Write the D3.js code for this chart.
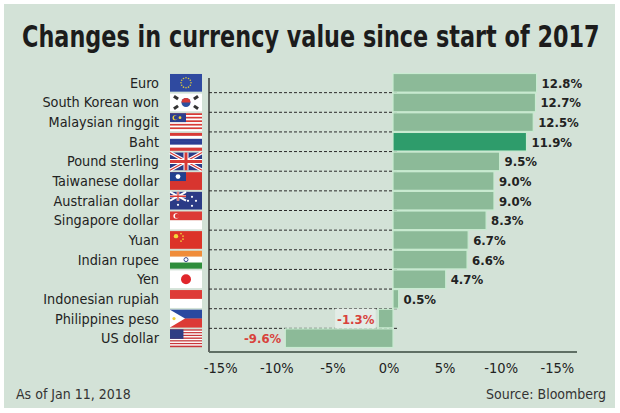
<!DOCTYPE html>
<html>
<head>
<meta charset="utf-8">
<script src="https://cdn.jsdelivr.net/npm/d3@7"></script>
<style>
  body { margin: 0; background: #fff; }
  svg { display: block; }
  .cond { font-family: 'DejaVu Sans Condensed', 'Liberation Sans Narrow', sans-serif; }
</style>
</head>
<body>
<div id="chart"></div>
<script>
// data
const currencies = ['Euro', 'South Korean won', 'Malaysian ringgit', 'Baht', 'Pound sterling',
  'Taiwanese dollar', 'Australian dollar', 'Singapore dollar', 'Yuan', 'Indian rupee', 'Yen',
  'Indonesian rupiah', 'Philippines peso', 'US dollar'];
const changes = [12.8, 12.7, 12.5, 11.9, 9.5, 9.0, 9.0, 8.3, 6.7, 6.6, 4.7, 0.5, -1.3, -9.6];
const flagCodes = ['eu', 'kr', 'my', 'th', 'gb', 'tw', 'au', 'sg', 'cn', 'in', 'jp', 'id', 'ph', 'us'];
const highlighted = 'Baht';
const tickValues = [-15, -10, -5, 0, 5, 10, 15];
const tickLabels = ['-15%', '-10%', '-5%', '0%', '5%', '-10%', '-15%']; // as printed in the original

(function() {
  const W = 620, H = 413;
  const bg = '#d3e2d7';

  const svg = d3.select('#chart').append('svg')
    .attr('width', W)
    .attr('height', H);

  // panel
  svg.append('rect')
    .attr('x', 4).attr('y', 4)
    .attr('width', 611).attr('height', 404)
    .attr('fill', bg);

  // title, squeezed horizontally to the width of the original
  const titleG = svg.append('g');
  const title = titleG.append('text')
    .attr('x', 0).attr('y', 0)
    .style('font-family', "'DejaVu Sans Condensed', sans-serif")
    .style('font-weight', 'bold')
    .style('font-size', '31px')
    .attr('fill', '#1c1c1c')
    .text('Changes in currency value since start of 2017');
  const tw = title.node().getComputedTextLength();
  titleG.attr('transform', `translate(22,47) scale(${578 / tw},1)`);

  const x = d3.scaleLinear().domain([-16.4, 16.4]).range([209, 577]);
  const y = d3.scaleBand().domain(currencies).range([73, 348]).paddingInner(0.1).paddingOuter(0.05);
  const bw = y.bandwidth();
  const gap = y.step() - bw;

  // dashed row separators
  svg.append('g').selectAll('line')
    .data(currencies.slice(0, -1))
    .join('line')
    .attr('x1', x.range()[0]).attr('x2', x(0) + 5)
    .attr('y1', d => y(d) + bw + gap / 2)
    .attr('y2', d => y(d) + bw + gap / 2)
    .attr('stroke', '#2a2a2a')
    .attr('stroke-width', 1)
    .attr('stroke-dasharray', '3,2');

  // bars
  svg.append('g').selectAll('rect')
    .data(currencies)
    .join('rect')
    .attr('x', (d, i) => x(Math.min(0, changes[i])))
    .attr('y', d => y(d) - gap / 2 + 0.5)
    .attr('width', (d, i) => Math.abs(x(changes[i]) - x(0)))
    .attr('height', y.step() - 1)
    .attr('fill', d => d === highlighted ? '#2e9c6b' : '#8cba98')
    .attr('stroke', '#c9ebd1')
    .attr('stroke-width', 1.2);

  // value labels
  const vals = svg.append('g').selectAll('g')
    .data(currencies)
    .join('g');
  const valText = vals.append('text')
    .attr('class', 'cond')
    .attr('x', (d, i) => changes[i] >= 0 ? x(changes[i]) + 5 : x(changes[i]) - 4)
    .attr('y', d => y(d) + bw / 2 + 5)
    .attr('text-anchor', (d, i) => changes[i] >= 0 ? 'start' : 'end')
    .style('font-size', '13px')
    .style('font-weight', 'bold')
    .attr('fill', (d, i) => changes[i] >= 0 ? '#222' : '#d8423c')
    .text((d, i) => changes[i].toFixed(1) + '%');
  // light box behind the small negative label
  valText.each(function(d, i) {
    if (changes[i] < 0 && changes[i] > -5) {
      const b = this.getBBox();
      d3.select(this.parentNode).insert('rect', 'text')
        .attr('x', b.x - 2).attr('y', y(d) - 1)
        .attr('width', b.width + 3).attr('height', bw + 2)
        .attr('fill', '#e3ece6');
    }
  });

  // category labels
  svg.append('g').selectAll('text')
    .data(currencies)
    .join('text')
    .attr('class', 'cond')
    .attr('x', 159)
    .attr('y', d => y(d) + bw / 2 + 5)
    .attr('text-anchor', 'end')
    .style('font-size', '14.3px')
    .attr('fill', '#222')
    .text(d => d);

  // flags
  const fx = 170, fw = 32;
  const flags = svg.append('g');
  flagCodes.forEach((code, i) => {
    const g = flags.append('g').attr('transform', `translate(${fx},${y(currencies[i])})`);
    drawFlag(g, code, fw, bw);
  });

  // axes lines
  svg.append('line')
    .attr('x1', x.range()[0]).attr('x2', x.range()[0])
    .attr('y1', 78).attr('y2', 352)
    .attr('stroke', '#222').attr('stroke-width', 1.3);
  svg.append('line')
    .attr('x1', x.range()[0]).attr('x2', x.range()[1])
    .attr('y1', 352).attr('y2', 352)
    .attr('stroke', '#5f6f64').attr('stroke-width', 2);

  // tick labels
  svg.append('g').selectAll('text')
    .data(tickValues)
    .join('text')
    .attr('class', 'cond')
    .attr('x', d => x(d) - 4)
    .attr('y', 373)
    .attr('text-anchor', 'middle')
    .style('font-size', '14.5px')
    .attr('fill', '#222')
    .text((d, i) => tickLabels[i]);

  // footer
  svg.append('text')
    .attr('class', 'cond')
    .attr('x', 16).attr('y', 399)
    .style('font-size', '14px')
    .attr('fill', '#333')
    .text('As of Jan 11, 2018');
  svg.append('text')
    .attr('class', 'cond')
    .attr('x', 606).attr('y', 399)
    .attr('text-anchor', 'end')
    .style('font-size', '14px')
    .attr('fill', '#333')
    .text('Source: Bloomberg');

  // simplified flags
  function stripes(g, colors, w, h) {
    const sh = h / colors.length;
    colors.forEach((c, k) => {
      g.append('rect').attr('x', 0).attr('y', k * sh).attr('width', w).attr('height', sh + 0.2).attr('fill', c);
    });
  }
  function drawFlag(g, code, w, h) {
    const red = '#d83a36', blue = '#2c3f93', white = '#ffffff';
    switch (code) {
      case 'eu': {
        g.append('rect').attr('width', w).attr('height', h).attr('fill', '#2f4aa0');
        d3.range(12).forEach(k => {
          const a = k / 12 * 2 * Math.PI;
          g.append('circle').attr('cx', w / 2 + 5 * Math.cos(a)).attr('cy', h / 2 + 5 * Math.sin(a))
            .attr('r', 0.8).attr('fill', '#d8c640');
        });
        break;
      }
      case 'kr': {
        g.append('rect').attr('width', w).attr('height', h).attr('fill', white);
        g.append('circle').attr('cx', w / 2).attr('cy', h / 2).attr('r', 4.5).attr('fill', '#2d50a0');
        g.append('path').attr('d', `M${w / 2 - 4.5},${h / 2} A4.5,4.5 0 0,1 ${w / 2 + 4.5},${h / 2} Z`).attr('fill', red);
        [[6, 4], [w - 6, 4], [6, h - 4], [w - 6, h - 4]].forEach(p => {
          g.append('rect').attr('x', p[0] - 2.5).attr('y', p[1] - 1.5).attr('width', 5).attr('height', 3)
            .attr('fill', '#333').attr('transform', `rotate(${(p[0] < w / 2) === (p[1] < h / 2) ? 35 : -35},${p[0]},${p[1]})`);
        });
        break;
      }
      case 'my': {
        stripes(g, d3.range(10).map(k => k % 2 ? white : red), w, h);
        g.append('rect').attr('width', w / 2).attr('height', h / 2).attr('fill', '#2b3e8f');
        g.append('circle').attr('cx', 5).attr('cy', h / 4).attr('r', 2.5).attr('fill', '#f1d23a');
        g.append('circle').attr('cx', 6).attr('cy', h / 4).attr('r', 2.1).attr('fill', '#2b3e8f');
        g.append('circle').attr('cx', 10).attr('cy', h / 4).attr('r', 1.4).attr('fill', '#f1d23a');
        break;
      }
      case 'th':
        stripes(g, [red, white, blue, blue, white, red], w, h);
        break;
      case 'gb': {
        g.append('rect').attr('width', w).attr('height', h).attr('fill', '#2b3b86');
        g.append('path').attr('d', `M0,0L${w},${h}M${w},0L0,${h}`).attr('stroke', white).attr('stroke-width', 3.5);
        g.append('path').attr('d', `M0,0L${w},${h}M${w},0L0,${h}`).attr('stroke', red).attr('stroke-width', 1.2);
        g.append('path').attr('d', `M${w / 2},0V${h}M0,${h / 2}H${w}`).attr('stroke', white).attr('stroke-width', 5);
        g.append('path').attr('d', `M${w / 2},0V${h}M0,${h / 2}H${w}`).attr('stroke', red).attr('stroke-width', 3);
        break;
      }
      case 'tw': {
        g.append('rect').attr('width', w).attr('height', h).attr('fill', '#d8352f');
        g.append('rect').attr('width', w / 2).attr('height', h / 2).attr('fill', '#22408f');
        g.append('circle').attr('cx', w / 4).attr('cy', h / 4).attr('r', 2.4).attr('fill', white);
        break;
      }
      case 'au': {
        g.append('rect').attr('width', w).attr('height', h).attr('fill', '#2b3b86');
        const c = g.append('g');
        c.append('path').attr('d', `M0,0L${w / 2},${h / 2}M${w / 2},0L0,${h / 2}`).attr('stroke', white).attr('stroke-width', 2);
        c.append('path').attr('d', `M${w / 4},0V${h / 2}M0,${h / 4}H${w / 2}`).attr('stroke', white).attr('stroke-width', 2.6);
        c.append('path').attr('d', `M${w / 4},0V${h / 2}M0,${h / 4}H${w / 2}`).attr('stroke', red).attr('stroke-width', 1.3);
        [[8, 13], [22, 5], [26, 9], [22, 14], [18, 9]].forEach(p => {
          g.append('circle').attr('cx', p[0]).attr('cy', p[1]).attr('r', 1.1).attr('fill', white);
        });
        break;
      }
      case 'sg': {
        stripes(g, ['#dc3a36', white], w, h);
        g.append('circle').attr('cx', 6).attr('cy', h / 4).attr('r', 2.6).attr('fill', white);
        g.append('circle').attr('cx', 7).attr('cy', h / 4).attr('r', 2.2).attr('fill', '#dc3a36');
        break;
      }
      case 'cn': {
        g.append('rect').attr('width', w).attr('height', h).attr('fill', '#dc3328');
        [[6, 5, 2.2], [11, 2.5, 0.8], [13, 5, 0.8], [13, 8, 0.8], [11, 10, 0.8]].forEach(p => {
          g.append('circle').attr('cx', p[0]).attr('cy', p[1]).attr('r', p[2]).attr('fill', '#f3d83b');
        });
        break;
      }
      case 'in': {
        stripes(g, ['#f08c3a', white, '#2f8d3c'], w, h);
        g.append('circle').attr('cx', w / 2).attr('cy', h / 2).attr('r', 2).attr('fill', 'none').attr('stroke', '#3b4a8f');
        break;
      }
      case 'jp': {
        g.append('rect').attr('width', w).attr('height', h).attr('fill', white);
        g.append('circle').attr('cx', w / 2).attr('cy', h / 2).attr('r', 5).attr('fill', '#e0262b');
        break;
      }
      case 'id':
        stripes(g, ['#de3b37', white], w, h);
        break;
      case 'ph': {
        stripes(g, ['#2a49a0', '#dc3a36'], w, h);
        g.append('path').attr('d', `M0,0L${h * 0.85},${h / 2}L0,${h}Z`).attr('fill', white);
        g.append('circle').attr('cx', 4).attr('cy', h / 2).attr('r', 1.6).attr('fill', '#f0d03a');
        break;
      }
      case 'us': {
        stripes(g, d3.range(13).map(k => k % 2 ? white : '#c9363a'), w, h);
        g.append('rect').attr('width', w * 0.42).attr('height', h * 7 / 13).attr('fill', '#2f3d84');
        break;
      }
    }
  }
}());
</script>
</body>
</html>
